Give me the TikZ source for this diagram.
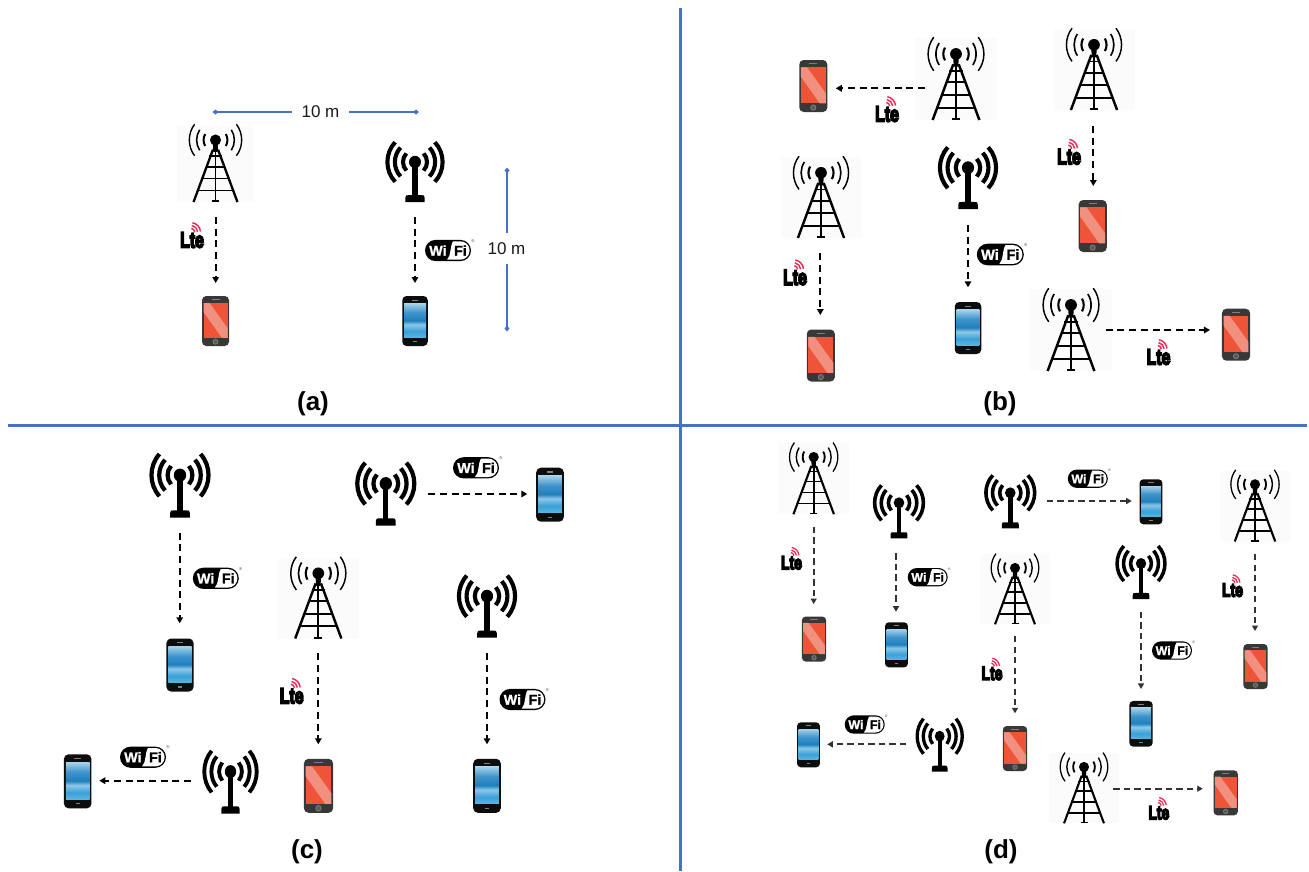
\documentclass[tikz,border=0pt]{standalone}
\usepackage{fontspec}
\usepackage{graphicx}
\usetikzlibrary{arrows.meta,calc}
\setmainfont{Liberation Sans}
\newfontfamily\logofont[FakeBold=1.2]{Liberation Sans Bold}
\newfontfamily\ltefont[FakeBold=8]{Liberation Sans Bold}
\definecolor{divblue}{HTML}{4472C4}
\definecolor{scrred}{HTML}{EE5538}
\definecolor{bandred}{HTML}{F29080}
\definecolor{ltered}{HTML}{EE2A55}
\definecolor{bs1}{HTML}{A4D2EA}
\definecolor{bs2}{HTML}{3F94CC}
\definecolor{bs3}{HTML}{1F7FBD}
\definecolor{bs4}{HTML}{8EC8E8}
\definecolor{bs5}{HTML}{38A0D8}
\definecolor{bs6}{HTML}{5DB5E0}
\pgfdeclareverticalshading{bluescreen}{100bp}{color(0bp)=(bs6); color(25bp)=(bs6); color(34bp)=(bs5); color(44bp)=(bs4); color(50bp)=(bs3); color(62bp)=(bs2); color(75bp)=(bs1); color(100bp)=(bs1)}
\tikzset{
  iconbox/.style={inner sep=0pt,outer sep=0pt},
  conn/.style={draw=black,line width=2pt,dash pattern=on 7pt off 4.7pt,-{Triangle[length=6pt,width=6.5pt]}},
  connd/.style={conn,draw=black!80,dash pattern=on 6.3pt off 4.2pt,-{Triangle[length=5.5pt,width=6pt]}},
  divider/.style={draw=divblue,line width=3pt},
  dimline/.style={draw=divblue,line width=2pt},
  dimlabel/.style={inner sep=0pt,font=\fontsize{17}{17}\selectfont,text=black!90},
  panel/.style={font=\bfseries\fontsize{26}{26}\selectfont,inner sep=0pt},
  pics/tower/.style={code={
    \begin{scope}[scale=#1]
      \fill[black!1.5] (-.5,-.5) rectangle (.5,.5);
      \begin{scope}[line width={#1*0.03},draw=black]
        \draw (-.033,-.18) -- (-.285,.5);
        \draw (.033,-.18) -- (.285,.5);
        \draw[line width={#1*0.024}] (0,-.29) -- (0,.5);
        \draw[line width={#1*0.024}] (-.05,.49) -- (.05,.49);
        \draw[line width={#1*0.022}] (-.08,-.1) -- (.08,-.1);
        \draw[line width={#1*0.024}] (-.122,.04) -- (.122,.04);
        \draw[line width={#1*0.024}] (-.183,.195) -- (.183,.195);
        \draw[line width={#1*0.024}] (-.232,.35) -- (.232,.35);
      \end{scope}
      \fill[black] (-.035,-.3) -- (.035,-.3) -- (.028,-.15) -- (-.028,-.15) -- cycle;
      \fill[black] (0,-.305) circle (.072);
      \begin{scope}[draw=black]
        \draw[line width={#1*0.026}] ([shift={(0,-.305)}]-30:.155) arc[start angle=-30,end angle=30,radius=.155];
        \draw[line width={#1*0.026}] ([shift={(0,-.305)}]150:.155) arc[start angle=150,end angle=210,radius=.155];
        \draw[line width={#1*0.02}] ([shift={(0,-.305)}]-33:.245) arc[start angle=-33,end angle=33,radius=.245];
        \draw[line width={#1*0.02}] ([shift={(0,-.305)}]147:.245) arc[start angle=147,end angle=213,radius=.245];
        \draw[line width={#1*0.018}] ([shift={(0,-.305)}]-37:.34) arc[start angle=-37,end angle=37,radius=.34];
        \draw[line width={#1*0.018}] ([shift={(0,-.305)}]143:.34) arc[start angle=143,end angle=217,radius=.34];
      \end{scope}
    \end{scope}
  }},
  pics/antenna/.style n args={2}{code={
    \begin{scope}[xscale=#1,yscale=#2]
      \fill[black] (-.042,-.145) rectangle (.042,.45);
      \fill[black] (-.16,.5) -- (-.16,.43) .. controls (-.16,.39) and (-.14,.39) .. (-.11,.39) -- (.11,.39) .. controls (.14,.39) and (.16,.39) .. (.16,.43) -- (.16,.5) -- cycle;
      \fill[black] (0,-.145) circle (.1);
      \begin{scope}[line width={#1*0.068},draw=black]
        \draw ([shift={(0,-.145)}]-44:.2) arc[start angle=-44,end angle=44,radius=.2];
        \draw ([shift={(0,-.145)}]136:.2) arc[start angle=136,end angle=224,radius=.2];
        \draw ([shift={(0,-.145)}]-44:.335) arc[start angle=-44,end angle=44,radius=.335];
        \draw ([shift={(0,-.145)}]136:.335) arc[start angle=136,end angle=224,radius=.335];
        \draw ([shift={(0,-.145)}]-44:.46) arc[start angle=-44,end angle=44,radius=.46];
        \draw ([shift={(0,-.145)}]136:.46) arc[start angle=136,end angle=224,radius=.46];
      \end{scope}
    \end{scope}
  }},
  pics/redphone/.style={code={
    \pgfmathsetmacro\rc{#1*.085}
    \begin{scope}[scale=#1]
      \fill[black!78,rounded corners=\rc pt] (-.27,-.5) rectangle (.27,.5);
      \fill[scrred] (-.24,-.36) rectangle (.24,.335);
      \fill[bandred] (-.24,-.36) -- (-.12,-.36) -- (.24,.14) -- (.24,.335) -- (.126,.335) -- (-.24,-.18) -- cycle;
      \draw[line width={#1*0.02},draw=black!50] (-.08,-.425) -- (.08,-.425);
      \draw[line width={#1*0.015},draw=black!50,fill=black!65] (0,.415) circle (.05);
    \end{scope}
  }},
  pics/bluephone/.style={code={
    \pgfmathsetmacro\rc{#1*.085}
    \begin{scope}[scale=#1]
      \fill[black!95,rounded corners=\rc pt] (-.255,-.5) rectangle (.255,.5);
      \shade[shading=bluescreen] (-.22,-.35) rectangle (.22,.33);
      \draw[line width={#1*0.02},draw=black!50] (-.06,-.42) -- (.06,-.42);
      \draw[line width={#1*0.02},draw=black!50] (-.04,.415) -- (.04,.415);
    \end{scope}
  }},
  pics/ltelogo/.style={code={
    \pgfmathsetmacro\fs{#1*0.92}
    \begin{scope}[scale=#1]
      \begin{scope}[line width={#1*0.06},draw=ltered]
        \draw ([shift={(-.055,-.15)}]-80:.17) arc[start angle=-80,end angle=-5,radius=.17];
        \draw ([shift={(-.055,-.15)}]-80:.29) arc[start angle=-80,end angle=-5,radius=.29];
        \draw ([shift={(-.055,-.15)}]-80:.41) arc[start angle=-80,end angle=-5,radius=.41];
      \end{scope}
      \node[inner sep=0pt,font=\ltefont\fontsize{\fs}{\fs}\selectfont] (-txt) at (0,.17) {\scalebox{.72}[1]{Lte}};
    \end{scope}
  }},
  pics/wifilogo/.style={code={
    \pgfmathsetmacro\fs{#1*0.31}
    \pgfmathsetmacro\ft{#1*0.09}
    \begin{scope}[scale=#1]
      \fill[black] (-.27,-.23) -- (.27,-.23) arc[start angle=-90,end angle=90,radius=.23] -- (-.27,.23) arc[start angle=90,end angle=270,radius=.23] -- cycle;
      \fill[white] (.11,-.2) -- (.27,-.2) arc[start angle=-90,end angle=90,radius=.2] -- (-.02,.2) .. controls (.07,.12) and (.04,-.1) .. (.11,-.2) -- cycle;
      \node[inner sep=0pt,text=white,font=\logofont\fontsize{\fs}{\fs}\selectfont] (-wi) at (-.22,0) {Wi};
      \node[inner sep=0pt,text=black,font=\logofont\fontsize{\fs}{\fs}\selectfont] (-fi) at (.27,0) {Fi};
      \node[inner sep=0pt,text=black!70,font=\fontsize{\ft}{\ft}\selectfont] (-reg) at (.54,-.21) {®};
    \end{scope}
  }},
}
\newcommand{\mtower}[4]{\node[iconbox,minimum width=#4pt,minimum height=#4pt] (#1) at (#2,#3) {}; \pic at (#1) {tower=#4};}
\newcommand{\mant}[5]{\node[iconbox,minimum width=#4pt,minimum height=#5pt] (#1) at (#2,#3) {}; \pic at (#1) {antenna={#4}{#5}};}
\newcommand{\mred}[4]{\pgfmathsetmacro\pw{#4*.54}\node[iconbox,minimum width=\pw pt,minimum height=#4pt] (#1) at (#2,#3) {}; \pic at (#1) {redphone=#4};}
\newcommand{\mblue}[4]{\pgfmathsetmacro\pw{#4*.51}\node[iconbox,minimum width=\pw pt,minimum height=#4pt] (#1) at (#2,#3) {}; \pic at (#1) {bluephone=#4};}
\newcommand{\mlte}[4]{\coordinate (#1) at (#2,#3); \pic (#1) at (#1) {ltelogo=#4};}
\newcommand{\mwifi}[4]{\coordinate (#1) at (#2,#3); \pic (#1) at (#1) {wifilogo=#4};}
\newcommand{\conn}[5][conn]{\draw[#1] ([shift={(#3)}]#2) -- ([shift={(#5)}]#4);}
\begin{document}
\begin{tikzpicture}[x=1pt,y=-1pt]
\useasboundingbox (0,0) rectangle (1309,871);
\fill[white] (0,0) rectangle (1309,871);
% dividers
\coordinate (vt) at (680,8); \coordinate (vb) at (680,871);
\coordinate (hl) at (8,425); \coordinate (hr) at (1307,425);
\draw[divider] (vt) -- (vb);
\draw[divider] (hl) -- (hr);
% panel a
\mtower{Ta}{215.5}{163.5}{77}
\mant{Aa}{415}{171}{60}{62}
\mred{Pa}{215.5}{321}{50}
\mblue{Qa}{415}{321}{50}
\mlte{La}{192}{236}{24}
\mwifi{Wa}{448}{250.5}{46}
\conn{Ta.south}{.2,15}{Pa.north}{.2,-13}
\conn{Aa.south}{0,15}{Qa.north}{0,-13}
\node[dimlabel,minimum width=57pt,minimum height=20pt] (d1) at (320.5,112) {10 m};
\node[dimlabel,minimum width=38pt,minimum height=30pt] (d2) at (506.5,248.5) {10 m};
\coordinate (d1l) at (212.5,112); \coordinate (d1r) at (419,112);
\coordinate (d2t) at (507,167.5); \coordinate (d2b) at (507,331.5);
\draw[dimline,{Diamond[length=6pt,width=5pt]}-] (d1l) -- (d1.west);
\draw[dimline,-{Diamond[length=6pt,width=5pt]}] (d1.east) -- (d1r);
\draw[dimline,{Diamond[length=6pt,width=5pt]}-] (d2t) -- (d2t |- d2.north);
\draw[dimline,-{Diamond[length=6pt,width=5pt]}] (d2b |- d2.south) -- (d2b);
\node[panel] (la) at (313,404) {(a)};
% panel b
\mtower{Tb1}{956}{79}{82}
\mtower{Tb2}{1094}{69.5}{81}
\mtower{Tb3}{821}{197.5}{81}
\mtower{Tb4}{1071}{330}{82}
\mant{Ab1}{968}{177}{61}{64}
\mred{Pb1}{813.3}{86}{52}
\mred{Pb2}{1092.7}{226}{52}
\mred{Pb3}{820.8}{355.5}{52}
\mblue{Qb1}{968}{328}{52}
\mred{Pb5}{1236}{334.7}{52}
\mlte{Lb1}{887}{110}{24}
\mlte{Lb2}{1069}{152.7}{24}
\mlte{Lb3}{795}{273.3}{24}
\mlte{Lb4}{1158.5}{353}{24}
\mwifi{Wb1}{1000.3}{254.5}{47}
\conn{Tb1.west}{10,9.3}{Pb1.east}{8.4,2.3}
\conn{Tb3.south}{-.7,15.3}{Pb3.north}{-.5,-14.5}
\conn{Tb2.south}{-.7,16}{Pb2.north}{.6,-14}
\conn{Ab1.south}{0,16}{Qb1.north}{0,-14.7}
\conn{Tb4.east}{-6.3,0}{Pb5.west}{-12,-4.7}
\node[panel] (lb) at (1000,404) {(b)};
% panel c
\mant{Ac1}{180}{484.7}{62}{66}
\mant{Ac2}{385.8}{493}{62}{65}
\mant{Ac3}{487}{605.5}{61}{64.4}
\mant{Ac4}{230.5}{781}{57}{65}
\mtower{Tc1}{318.3}{598}{81}
\mblue{Qc1}{180}{665}{53}
\mblue{Qc2}{550}{494.7}{54}
\mblue{Qc3}{77.7}{781.3}{54}
\mred{Pc1}{318.5}{785.8}{54}
\mblue{Qc4}{487}{785.8}{54}
\mwifi{Wc1}{215.8}{578.3}{46}
\mwifi{Wc2}{476}{467.8}{46}
\mwifi{Wc3}{522.5}{699.5}{46}
\mwifi{Wc4}{143}{757.2}{46}
\mlte{Lc1}{291.7}{691.8}{24}
\conn{Ac1.south}{-.3,15}{Qc1.north}{-.3,-15.2}
\conn{Ac2.east}{11.5,1}{Qc2.west}{-8.9,-.7}
\conn{Ac3.south}{0,15.6}{Qc4.north}{0,-14.5}
\conn{Tc1.south}{0,14.8}{Pc1.north}{-.2,-14.5}
\conn{Ac4.west}{-11,-.3}{Qc3.east}{7.8,-.6}
\node[panel] (lc) at (307,852) {(c)};
% panel d
\mtower{Td1}{813.7}{478.7}{71}
\mtower{Td2}{1255}{506}{71}
\mtower{Td3}{1015}{589.3}{70}
\mtower{Td4}{1084}{788.3}{70}
\mant{Ad1}{899}{510.8}{53}{55}
\mant{Ad2}{1010.3}{500.8}{53}{55}
\mant{Ad3}{1141}{571.5}{52}{55}
\mant{Ad4}{939.7}{744.2}{49}{55}
\mred{Pd1}{814}{639}{45}
\mblue{Qd1}{896.5}{644.8}{45}
\mblue{Qd2}{1151}{501.8}{45}
\mred{Pd2}{1255.5}{666.5}{45}
\mred{Pd3}{1015}{748.5}{45}
\mblue{Qd3}{1141}{723.8}{45.7}
\mblue{Qd4}{808.5}{744.8}{45}
\mred{Pd4}{1225.7}{792.8}{45}
\mwifi{Wd1}{1087.8}{478.7}{40}
\mwifi{Wd2}{927.7}{577.2}{40}
\mwifi{Wd3}{1172}{650.5}{40}
\mwifi{Wd4}{864.7}{724.5}{40}
\mlte{Ld1}{791.5}{559.2}{21}
\mlte{Ld2}{992}{669.8}{21}
\mlte{Ld3}{1232.5}{586.5}{21}
\mlte{Ld4}{1158.8}{809.2}{21}
\conn[connd]{Td1.south}{0,12.5}{Pd1.north}{-.3,-12.5}
\conn[connd]{Ad1.south}{-3,15}{Qd1.north}{-.5,-10.6}
\conn[connd]{Ad2.east}{9.9,.2}{Qd2.west}{-7.8,-.8}
\conn[connd]{Td3.south}{0,11.7}{Pd3.north}{0,-12.7}
\conn[connd]{Ad3.south}{0,12.7}{Qd3.north}{0,-12}
\conn[connd]{Td2.south}{0,12.5}{Pd2.north}{-.5,-13}
\conn[connd]{Ad4.west}{-9.2,.1}{Qd4.east}{7.3,-.5}
\conn[connd]{Td4.east}{-5.7,.4}{Pd4.west}{-10.8,-4.1}
\node[panel] (ld) at (1001,852) {(d)};
\end{tikzpicture}
\end{document}
